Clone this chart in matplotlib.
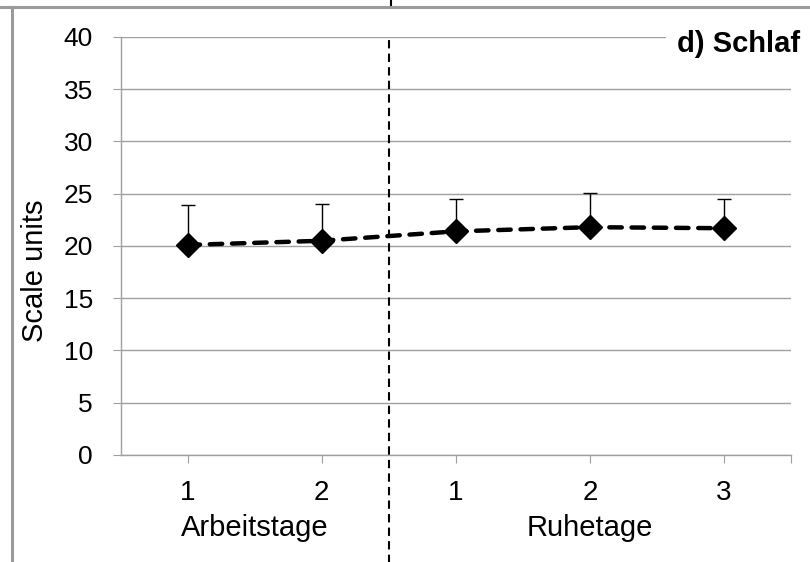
import numpy as np
import matplotlib
matplotlib.use('Agg')
import matplotlib.pyplot as plt
from matplotlib.lines import Line2D
import matplotlib.transforms as mtransforms

plt.rcParams['font.family'] = ['Liberation Sans', 'DejaVu Sans']

# data
day_labels = ['1', '2', '1', '2', '3']
group_names = ['Arbeitstage', 'Ruhetage']
group_centers = [0.5, 3.0]
means = [20.1, 20.5, 21.4, 21.8, 21.7]
upper_err = [3.8, 3.5, 3.1, 3.3, 2.8]
y_ticks = [0, 5, 10, 15, 20, 25, 30, 35, 40]
panel_title = 'd) Schlaf'

gray = '#A0A0A0'
x = np.arange(len(means))

fig = plt.figure(figsize=(8.1, 5.62), dpi=100)
ax = fig.add_axes([0.1488, 0.1904, 0.8277, 0.7438])

ax.set_ylim(0, 40)
ax.set_xlim(-0.5, len(means) - 0.5)
ax.set_yticks(y_ticks)
ax.grid(axis='y', color=gray, linewidth=1.0)
ax.set_axisbelow(True)

for s in ['top', 'right']:
    ax.spines[s].set_visible(False)
for s in ['left', 'bottom']:
    ax.spines[s].set_color(gray)
    ax.spines[s].set_linewidth(1.0)

ax.tick_params(axis='y', direction='out', length=6, color=gray, pad=14, labelsize=19)
ax.tick_params(axis='x', direction='out', length=6, color=gray, pad=12, labelsize=20)
ax.set_xticks(list(x) + [len(means) - 0.5])
ax.set_xticklabels(day_labels + [''])

# error bars (upper only)
ax.errorbar(x, means, yerr=[np.zeros(len(means)), upper_err], fmt='none',
            ecolor='black', elinewidth=1.0, capsize=4.7, capthick=1.0, zorder=3)

# dashed line with diamonds
ax.plot(x, means, color='black', linewidth=3.2, linestyle=(0, (2.8, 2.2)),
        dash_capstyle='round', zorder=4)
ax.plot(x, means, linestyle='none', marker='D', markersize=12.5,
        color='black', zorder=5)

# divider between the two groups (and the stub of the panel above)
trans = mtransforms.blended_transform_factory(ax.transData, ax.transAxes)
ax.plot([1.5, 1.5], [-0.26, 0.995], transform=trans, color='black',
        linewidth=1.5, linestyle=(0, (4, 2.5)), clip_on=False, zorder=6)
ax.plot([1.52, 1.52], [1.076, 1.09], transform=trans, color='black',
        linewidth=1.5, clip_on=False, zorder=6)

# group labels
for name, c in zip(group_names, group_centers):
    ax.text(c, -0.175, name, transform=trans, ha='center', va='center', fontsize=21)

fig.text(0.043, 0.518, 'Scale units', rotation=90, ha='center', va='center', fontsize=21)

fig.text(0.988, 0.922, panel_title, ha='right', va='center', fontsize=21,
         fontweight='bold', bbox=dict(facecolor='white', edgecolor='none', pad=8))

# outer panel frame
fig.add_artist(Line2D([0, 1], [1 - 7 / 562, 1 - 7 / 562], color='#9A9A9A', linewidth=2.2))
fig.add_artist(Line2D([12 / 810, 12 / 810], [0, 1 - 7 / 562], color='#9A9A9A', linewidth=2.2))

fig.savefig('out.png', dpi=100)
